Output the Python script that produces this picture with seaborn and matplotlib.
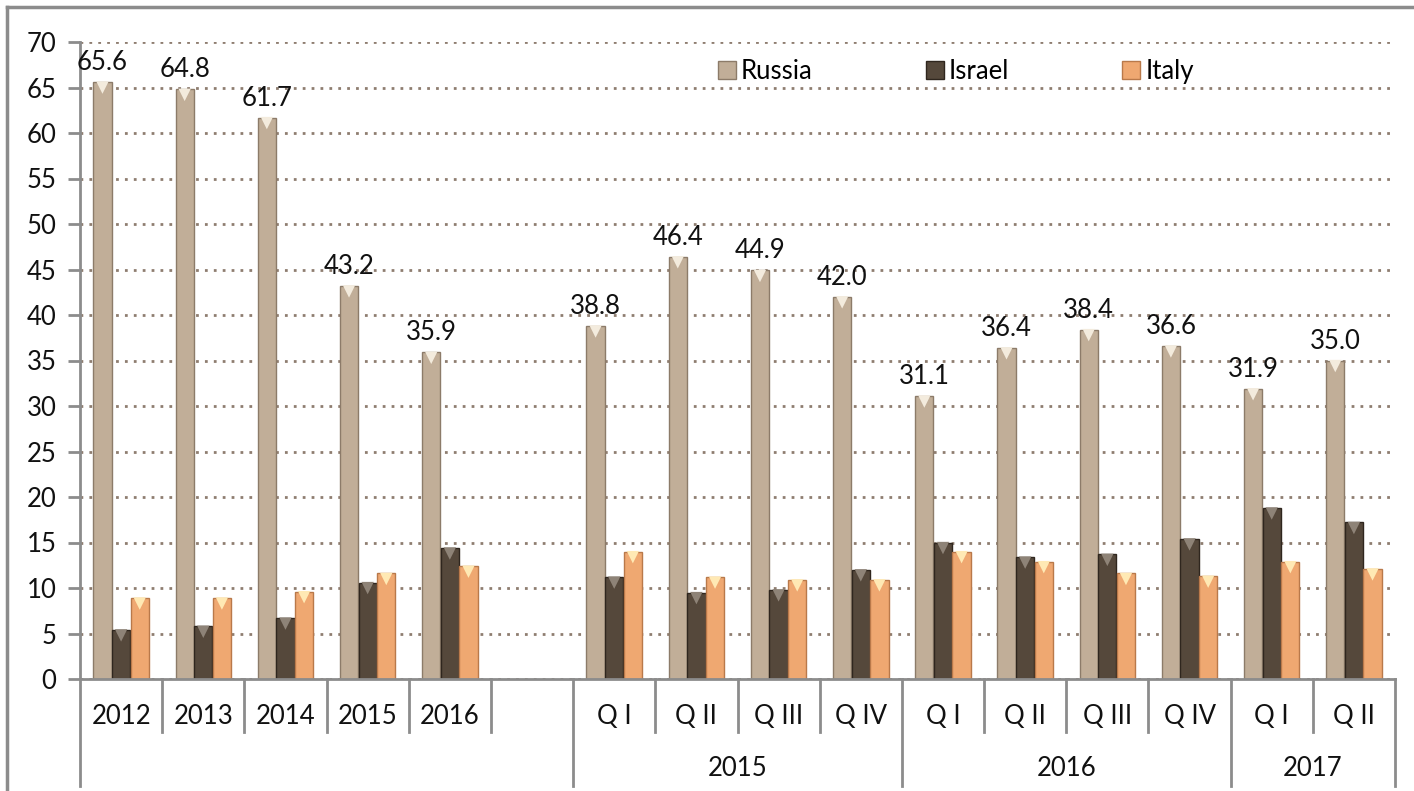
import numpy as np
import pandas as pd
import matplotlib
matplotlib.use('Agg')
import matplotlib.pyplot as plt
import matplotlib.transforms as mtransforms
from matplotlib.patches import Patch
import seaborn as sns

# 데이터
slot_labels = ['2012', '2013', '2014', '2015', '2016', '',
               'Q I', 'Q II', 'Q III', 'Q IV',
               'Q I', 'Q II', 'Q III', 'Q IV',
               'Q I', 'Q II']
group_labels = ['', '2015', '2016', '2017']
group_sizes = [6, 4, 4, 2]

russia = [65.6, 64.8, 61.7, 43.2, 35.9, np.nan, 38.8, 46.4, 44.9, 42.0, 31.1, 36.4, 38.4, 36.6, 31.9, 35.0]
israel = [5.4, 5.8, 6.7, 10.6, 14.4, np.nan, 11.2, 9.5, 9.8, 12.0, 15.0, 13.4, 13.7, 15.4, 18.8, 17.2]
italy = [8.9, 8.9, 9.6, 11.6, 12.4, np.nan, 14.0, 11.2, 10.9, 10.9, 14.0, 12.9, 11.6, 11.3, 12.9, 12.1]

countries = ['Russia', 'Israel', 'Italy']
face_colors = ['#C1AE98', '#55483B', '#EFA871']
edge_colors = ['#8C7B69', '#2F261E', '#B9794A']
tip_colors = ['#F3EBDD', '#8E8377', '#FFE9B4']

slots = [f's{i}' for i in range(len(slot_labels))]
df = pd.DataFrame({
    'slot': slots * 3,
    'country': np.repeat(countries, len(slots)),
    'value': russia + israel + italy,
}).dropna()

plt.rcParams['font.family'] = ['Lato', 'DejaVu Sans']
FS = 18.5
fig = plt.figure(figsize=(14.14, 7.91), dpi=100)
ax = fig.add_axes([80 / 1414, 1 - 679 / 791, 1315 / 1414, 637 / 791])

sns.barplot(data=df, x='slot', y='value', hue='country', order=slots, hue_order=countries,
            palette=face_colors, saturation=1, width=0.68, gap=0.02, ax=ax, legend=False,
            errorbar=None)

# 막대 테두리 + 윗부분 삼각형
shift = mtransforms.ScaledTranslation(0, -4 / 72, fig.dpi_scale_trans)
for cont, ec, tc in zip(ax.containers, edge_colors, tip_colors):
    xs, hs = [], []
    for bar in cont:
        bar.set_edgecolor(ec)
        bar.set_linewidth(1.0)
        xs.append(bar.get_x() + bar.get_width() / 2)
        hs.append(bar.get_height())
    ax.scatter(xs, hs, marker='v', s=80, color=tc, edgecolor='none', zorder=5,
               transform=ax.transData + shift)

ax.bar_label(ax.containers[0], fmt='%.1f', padding=5, fontsize=FS, color='#111111')

ax.set_ylim(0, 70)
ax.set_xlim(-0.5, len(slots) - 0.5)
ax.set_yticks(range(0, 71, 5))
ax.yaxis.grid(True, linestyle=(0, (1, 2.2)), linewidth=2, color='#8E7D70')
ax.xaxis.grid(False)
ax.set_axisbelow(True)
ax.set_xlabel('')
ax.set_ylabel('')
for s in ['top', 'right']:
    ax.spines[s].set_visible(False)
for s in ['left', 'bottom']:
    ax.spines[s].set_color('#8C8C8C')
    ax.spines[s].set_linewidth(2)
ax.tick_params(axis='y', length=9, width=2, color='#8C8C8C', labelsize=FS, pad=8, labelcolor='#111111')
ax.set_xticks(range(len(slots)))
ax.set_xticklabels(slot_labels)
ax.tick_params(axis='x', length=0, labelsize=FS, pad=18, labelcolor='#111111')

# 아래 카테고리 표 선
trans = mtransforms.blended_transform_factory(ax.transData, ax.transAxes)
edges = np.cumsum([0] + group_sizes) - 0.5
for i in range(len(slots) + 1):
    xpos = i - 0.5
    y_end = -0.168 if xpos in edges else -0.083
    ax.plot([xpos, xpos], [0, y_end], color='#8C8C8C', lw=2, transform=trans, clip_on=False)
for lab, a, b in zip(group_labels, edges[:-1], edges[1:]):
    if lab:
        ax.text((a + b) / 2, -0.14, lab, transform=trans, ha='center', va='center',
                fontsize=FS, color='#111111')

# 범례
handles = [Patch(facecolor=fc, edgecolor=ec) for fc, ec in zip(face_colors, edge_colors)]
ax.legend(handles, countries, loc='center left', bbox_to_anchor=(0.485, 0.953), ncol=3,
          frameon=False, fontsize=FS, handlelength=0.7, handleheight=0.7,
          handletextpad=0.2, columnspacing=4.4, borderpad=0, borderaxespad=0)

# 바깥 테두리
fig.add_artist(plt.Line2D([7 / 1414, 1], [1 - 7 / 791, 1 - 7 / 791], color='#8C8C8C', lw=2.5))
fig.add_artist(plt.Line2D([7 / 1414, 7 / 1414], [0, 1 - 7 / 791], color='#8C8C8C', lw=2.5))

fig.savefig('out.png', dpi=100)
